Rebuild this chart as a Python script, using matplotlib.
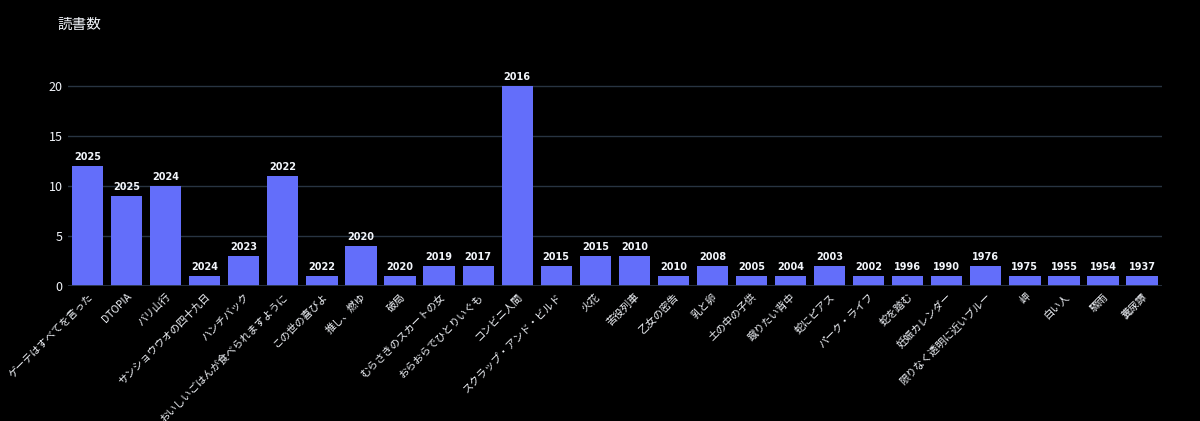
import numpy as np
import matplotlib.pyplot as plt

plt.rcParams['font.family'] = ['Noto Sans CJK JP', 'DejaVu Sans']

titles = ["ゲーテはすべてを言った", "DTOPIA", "バリ山行", "サンショウウオの四十九日",
          "ハンチバック", "おいしいごはんが食べられますように", "この世の喜びよ", "推し、燃ゆ",
          "破局", "むらさきのスカートの女", "おらおらでひとりいぐも", "コンビニ人間",
          "スクラップ・アンド・ビルド", "火花", "苦役列車", "乙女の密告", "乳と卵",
          "土の中の子供", "蹴りたい背中", "蛇にピアス", "パーク・ライフ", "蛇を踏む",
          "妊娠カレンダー", "限りなく透明に近いブルー", "岬", "白い人", "驟雨", "糞尿譚"]
counts = [12, 9, 10, 1, 3, 11, 1, 4, 1, 2, 2, 20, 2, 3, 3, 1, 2, 1, 1, 2, 1, 1, 1, 2, 1, 1, 1, 1]
years = [2025, 2025, 2024, 2024, 2023, 2022, 2022, 2020, 2020, 2019, 2017, 2016, 2015, 2015,
         2010, 2010, 2008, 2005, 2004, 2003, 2002, 1996, 1990, 1976, 1975, 1955, 1954, 1937]

bg = '#000000'
grid = '#283442'
fg = '#f2f5fa'

fig = plt.figure(figsize=(12, 4.21), dpi=100, facecolor=bg)
ax = fig.add_axes([0.0567, 0.3207, 0.9113, 0.5])
ax.set_facecolor(bg)

x = np.arange(len(titles))
ax.bar(x, counts, width=0.8, color='#636EFA', zorder=3)
for xi, c, y in zip(x, counts, years):
    ax.annotate(str(y), (xi, c), xytext=(0, 3), textcoords='offset points',
                ha='center', va='bottom', color=fg, fontsize=7, fontweight='bold',
                family='DejaVu Sans')

ax.set_xlim(-0.5, len(titles) - 0.5)
ax.set_ylim(0, 21.05)
ax.set_yticks([0, 5, 10, 15, 20])
ax.yaxis.grid(True, color=grid, linewidth=1, zorder=0)
ax.axhline(0, color=grid, linewidth=2, zorder=4)
ax.set_xticks(x)
ax.set_xticklabels(titles, rotation=45, ha='right', rotation_mode='anchor', fontsize=7.5)
for s in ax.spines.values():
    s.set_visible(False)
ax.tick_params(axis='both', length=0, colors=fg)
ax.tick_params(axis='y', labelsize=9, pad=4)
ax.tick_params(axis='x', pad=4)

fig.text(0.0475, 0.94, "読書数", color=fg, fontsize=10.5, va='center', ha='left')

fig.savefig('out.png', dpi=100, facecolor=bg)
